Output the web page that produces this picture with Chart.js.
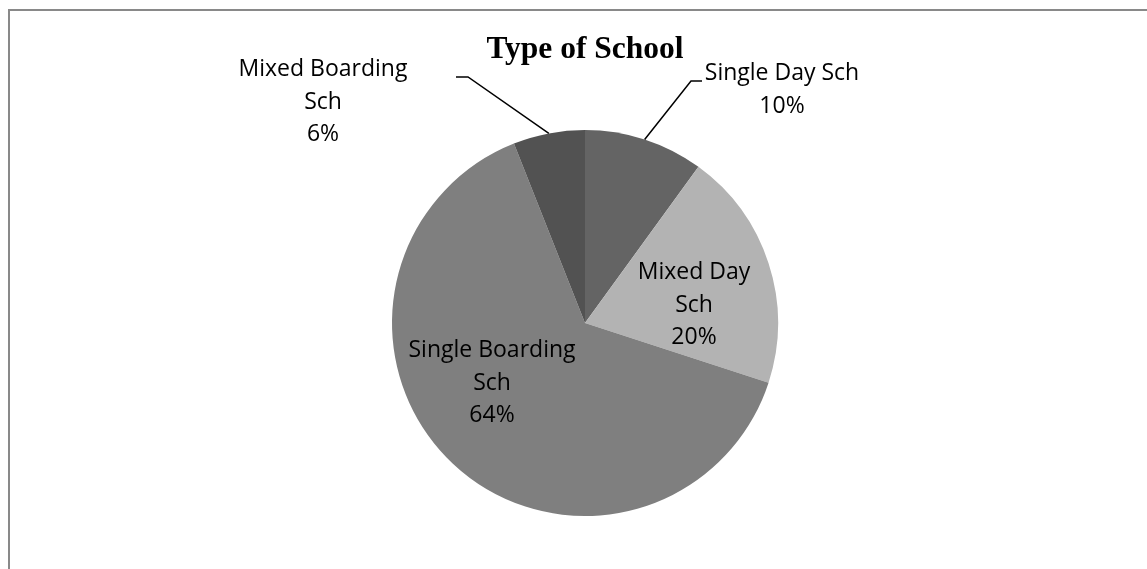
<!DOCTYPE html>
<html>
<head>
<meta charset="utf-8">
<title>Type of School</title>
<script src="https://cdn.jsdelivr.net/npm/chart.js@4/dist/chart.umd.min.js"></script>
<style>
  html, body { margin: 0; padding: 0; background: #fff; }
  #wrap { position: relative; width: 1147px; height: 569px; overflow: hidden; }
  #frame {
    position: absolute; left: 8px; top: 9px; width: 1200px; height: 600px;
    border-top: 2px solid #898989; border-left: 2px solid #898989;
  }
  canvas { position: absolute; left: 0; top: 0; }
</style>
</head>
<body>
<div id="wrap">
  <div id="frame"></div>
  <canvas id="myChart" width="1147" height="569"></canvas>
</div>
<script>
// school types, clockwise from 12 o'clock
const schoolTypes = [
  ["Single Day Sch"],
  ["Mixed Day", "Sch"],
  ["Single Boarding", "Sch"],
  ["Mixed Boarding", "Sch"],
];
const schoolShares = [10, 20, 64, 6];
const sliceColors = ["#646464", "#b3b3b3", "#7f7f7f", "#525252"];

// where each label sits, in px from the pie centre
// leader: [elbow, end] for labels outside the pie
const labelSpots = [
  { dx: 197, dy: -233, leader: [[106, -242], [117, -242]] },
  { dx: 109, dy: -18 },
  { dx: -93, dy: 60 },
  { dx: -262, dy: -221, leader: [[-117, -246], [-129, -246]] },
];

const labelFont = '23px "Open Sans", "Noto Sans", sans-serif';
const lineGap = 32.5;

// draws the category + percent labels and the leader lines
const sliceLabels = {
  id: "sliceLabels",
  afterDatasetsDraw(chart) {
    const ctx = chart.ctx;
    const arcs = chart.getDatasetMeta(0).data;
    ctx.save();
    ctx.font = labelFont;
    ctx.fillStyle = "#000";
    ctx.textAlign = "center";
    ctx.textBaseline = "middle";
    arcs.forEach((arc, i) => {
      const p = arc.getProps(["x", "y", "startAngle", "endAngle", "outerRadius"], true);
      const spot = labelSpots[i];
      if (spot.leader) {
        const mid = (p.startAngle + p.endAngle) / 2;
        ctx.beginPath();
        ctx.strokeStyle = "#000";
        ctx.lineWidth = 1.5;
        ctx.moveTo(p.x + Math.cos(mid) * p.outerRadius, p.y + Math.sin(mid) * p.outerRadius);
        spot.leader.forEach(([lx, ly]) => ctx.lineTo(p.x + lx, p.y + ly));
        ctx.stroke();
      }
      const lines = schoolTypes[i].concat([schoolShares[i] + "%"]);
      const top = p.y + spot.dy - ((lines.length - 1) * lineGap) / 2;
      lines.forEach((txt, k) => ctx.fillText(txt, p.x + spot.dx, top + k * lineGap));
    });
    ctx.restore();
  },
};

const ctx = document.getElementById("myChart");
const myChart = new Chart(ctx, {
  type: "pie",
  data: {
    labels: schoolTypes.map((l) => l.join(" ")),
    datasets: [
      {
        data: schoolShares,
        backgroundColor: sliceColors,
        borderWidth: 0,
      },
    ],
  },
  options: {
    responsive: false,
    animation: false,
    layout: { padding: { top: 10, bottom: 53, left: 392, right: 369 } },
    plugins: {
      legend: { display: false },
      tooltip: { enabled: false },
      title: {
        display: true,
        text: "Type of School",
        color: "#000",
        font: { family: '"Liberation Serif", "Times New Roman", serif', size: 31.5, weight: "bold", lineHeight: 1.2 },
        padding: { top: 21, bottom: 61.2 },
      },
    },
  },
  plugins: [sliceLabels],
});
</script>
</body>
</html>
